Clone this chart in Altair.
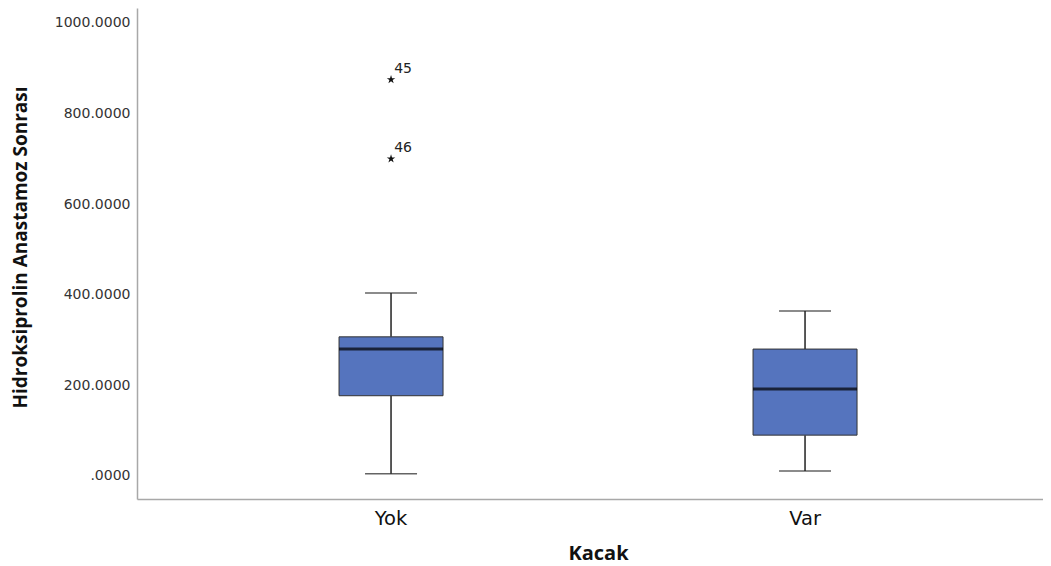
import altair as alt
import pandas as pd

groups = ["Yok", "Var"]
lows = [5, 11]
q1s = [177, 90]
medians = [280, 192]
q3s = [307, 280]
highs = [404, 364]
outlier_groups = ["Yok", "Yok"]
outlier_values = [875, 700]
outlier_ids = ["45", "46"]
y_ticks = [0, 200, 400, 600, 800, 1000]

box_df = pd.DataFrame(dict(Kacak=groups, low=lows, q1=q1s, median=medians, q3=q3s, high=highs))
out_df = pd.DataFrame(dict(Kacak=outlier_groups, value=outlier_values, id=outlier_ids))

YTITLE = "Hidroksiprolin Anastamoz Sonrası"

x_enc = alt.X(
    "Kacak:N", sort=groups,
    scale=alt.Scale(paddingInner=0, paddingOuter=0.0942, align=0.603),
    axis=alt.Axis(
        title="Kacak", labelAngle=0, ticks=False, tickSize=0, domainColor="#a8a8a8", domainWidth=1.5,
        labelFont="DejaVu Sans", labelFontSize=19.5, labelColor="#111", labelBaseline="middle", labelPadding=19,
        titleFont="Open Sans", titleFontSize=20, titleFontWeight="bold", titleColor="#111",
        titleBaseline="alphabetic", titleY=60, titleX=461, titleAlign="center",
    ),
)

yscale = alt.Scale(domain=[-51, 1033], nice=False, zero=False)
yaxis = alt.Axis(
    values=y_ticks, grid=False, ticks=False, tickSize=0, domainColor="#a8a8a8", domainWidth=1.5,
    labelExpr="datum.value == 0 ? '.0000' : format(datum.value, '.4f')",
    labelFont="DejaVu Sans", labelFontSize=14, labelColor="#333", labelPadding=7,
    titleFont="Open Sans", titleFontSize=19, titleFontWeight="bold", titleColor="#111",
    titleAngle=270, titleBaseline="middle", titleAlign="center", titleX=-117, titleY=239,
)


def Y(field):
    return alt.Y(field, scale=yscale, axis=yaxis, title=YTITLE)


base = alt.Chart(box_df)

lower_whisker = base.mark_rule(color="#222", strokeWidth=1.5).encode(x=x_enc, y=Y("low:Q"), y2="q1:Q")
upper_whisker = base.mark_rule(color="#222", strokeWidth=1.5).encode(x=x_enc, y=Y("q3:Q"), y2="high:Q")
box = base.mark_bar(size=104, color="#5574BE", stroke="#333", strokeWidth=1).encode(
    x=x_enc, y=Y("q1:Q"), y2="q3:Q")
median = base.mark_tick(size=104, thickness=3, color="#000").encode(x=x_enc, y=Y("median:Q"))
cap_low = base.mark_tick(size=52, thickness=1.5, color="#222").encode(x=x_enc, y=Y("low:Q"))
cap_high = base.mark_tick(size=52, thickness=1.5, color="#222").encode(x=x_enc, y=Y("high:Q"))

star = "M0,-1L0.2245,-0.309L0.951,-0.309L0.363,0.118L0.588,0.809L0,0.382L-0.588,0.809L-0.363,0.118L-0.951,-0.309L-0.2245,-0.309Z"
out_pts = alt.Chart(out_df).mark_point(shape=star, filled=True, size=80, color="#111", opacity=1).encode(
    x=x_enc, y=Y("value:Q"))
out_lbl = alt.Chart(out_df).mark_text(dx=12, dy=-11, fontSize=14, font="DejaVu Sans", color="#222").encode(
    x=x_enc, y=Y("value:Q"), text="id:N")

chart = alt.layer(lower_whisker, upper_whisker, box, median, cap_low, cap_high, out_pts, out_lbl).properties(
    width=906, height=491,
    autosize=alt.AutoSizeParams(type="none"),
    padding={"left": 129, "top": 0, "right": 0, "bottom": 67},
    background="white",
).configure_view(stroke=None)

chart.save("out.html", embed_options={"renderer": "svg", "actions": False})
